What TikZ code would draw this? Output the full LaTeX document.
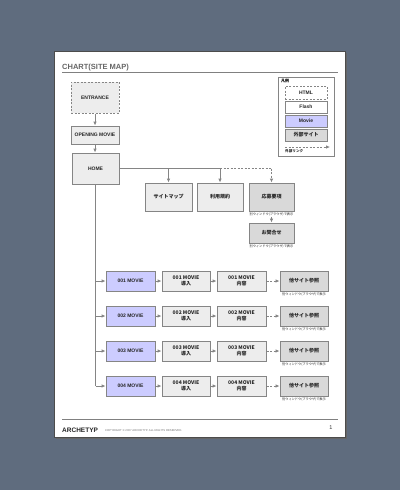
\documentclass[tikz,border=0pt]{standalone}
\usepackage{fontspec}
\setmainfont{Liberation Sans}
\newfontfamily\cjk{Noto Sans CJK JP}
\usetikzlibrary{arrows.meta}
\definecolor{bgc}{HTML}{5F6C7E}
\definecolor{boxfill}{HTML}{EDEDED}
\definecolor{darkfill}{HTML}{D9D9D9}
\definecolor{moviefill}{HTML}{CCCCFF}
\definecolor{linec}{HTML}{858585}
\tikzset{
  base/.style={draw=linec, line width=1pt, align=center, inner sep=0.5pt,
    font=\bfseries\fontsize{5}{5.8}\selectfont, text=black!85},
  htmlbox/.style={base, fill=boxfill},
  dashbox/.style={base, fill=boxfill, dashed, dash pattern=on 2pt off 1.5pt},
  extbox/.style={base, fill=darkfill},
  moviebox/.style={base, fill=moviefill},
  whitebox/.style={base, fill=white},
  jp/.style={font=\cjk\bfseries\fontsize{5}{5.8}\selectfont},
  conn/.style={draw=linec, line width=1pt, -{Latex[length=3.8pt,width=3.4pt]}},
  dconn/.style={conn, dash pattern=on 2pt off 1.5pt},
  plain/.style={draw=linec, line width=1pt},
  dplain/.style={plain, dash pattern=on 2pt off 1.5pt},
  caption/.style={font=\cjk\fontsize{3.2}{3.6}\selectfont, text=black!85, inner sep=0pt},
}
\begin{document}
\begin{tikzpicture}[x=1pt,y=-1pt]
\useasboundingbox (0,0) rectangle (400,490);
\fill[bgc] (0,0) rectangle (400,490);
% page
\fill[black!60] (56,53) rectangle (347,439);
\filldraw[fill=white, draw=black!70, line width=0.5pt] (54,51) rectangle (345,437);
% title
\node[anchor=base west, inner sep=0pt, font=\bfseries\fontsize{7.5}{8}\selectfont, text=black!60] (title) at (62,69) {CHART(SITE MAP)};
\draw[black!50, line width=0.9pt] (62,72.5) -- (338,72.5);
% legend
\draw[draw=linec, line width=0.8pt, fill=white] (278,77) rectangle (334,156);
\node[anchor=north west, inner sep=0pt, font=\cjk\bfseries\fontsize{4}{4.5}\selectfont] (lgtitle) at (281,79) {凡例};
\node[dashbox, fill=white, minimum width=42pt, minimum height=13pt] (lghtml) at (306,92.5) {HTML};
\node[whitebox, minimum width=42pt, minimum height=12pt] (lgflash) at (306,107) {Flash};
\node[moviebox, minimum width=42pt, minimum height=12pt] (lgmovie) at (306,121) {Movie};
\node[extbox, jp, minimum width=42pt, minimum height=12pt] (lgext) at (306,135) {外部サイト};
\coordinate (lga) at (285,147);
\coordinate (lgb) at (330,147);
\draw[dconn] (lga) -- (lgb);
\node[anchor=west, caption, font=\cjk\bfseries\fontsize{3.6}{4}\selectfont] (lglink) at (285,151.5) {外部リンク};
% main chart
\node[dashbox, minimum width=48pt, minimum height=31pt] (entrance) at (95,97.5) {ENTRANCE};
\node[htmlbox, minimum width=48pt, minimum height=18pt] (opening) at (95,135) {OPENING MOVIE};
\node[htmlbox, minimum width=47pt, minimum height=31pt] (home) at (95.5,168.5) {HOME};
\draw[conn] (entrance) -- (opening);
\draw[conn] (opening) -- (home.north -| opening);
\node[htmlbox, jp, minimum width=47pt, minimum height=28pt] (sitemap) at (168.5,197) {サイトマップ};
\node[htmlbox, jp, minimum width=46pt, minimum height=28pt] (kiyaku) at (220,197) {利用規約};
\node[extbox, jp, minimum width=45pt, minimum height=28pt] (oubo) at (271.5,197) {応募要項};
\node[caption, anchor=north] (capoubo) at (271.5,213) {別ウィンドウ(ブラウザ)で表示};
\node[extbox, jp, minimum width=45pt, minimum height=20pt] (toiawase) at (271.5,233) {お問合せ};
\node[caption, anchor=north] (captoi) at (271.5,245) {別ウィンドウ(ブラウザ)で表示};
\coordinate (hr) at (home.east);
\coordinate (j1) at (sitemap.north |- hr);
\coordinate (j2) at (kiyaku.north |- hr);
\coordinate (j3) at (oubo.north |- hr);
\draw[plain] (hr) -- (j2);
\draw[dplain] (j2) -- (j3);
\draw[conn] (j1) -- (sitemap.north);
\draw[conn] (j2) -- (kiyaku.north);
\draw[dconn] (j3) -- (oubo.north);
\draw[dconn] (capoubo.south) -- (toiawase.north);
% movie rows
\foreach \i/\y in {1/281,2/316,3/351,4/386}{
  \node[moviebox, minimum width=49pt, minimum height=20pt] (m\i) at (130.5,\y) {00\i\ MOVIE};
  \node[htmlbox, jp, minimum width=48pt, minimum height=20pt] (d\i) at (186,\y) {00\i\ MOVIE\\導入};
  \node[htmlbox, jp, minimum width=49pt, minimum height=20pt] (c\i) at (241.5,\y) {00\i\ MOVIE\\内容};
  \node[extbox, jp, minimum width=48pt, minimum height=20pt] (o\i) at (304,\y) {他サイト参照};
  \node[caption, anchor=north] (cap\i) at (304,\y+11.5) {別ウィンドウ(ブラウザ)で表示};
  \coordinate (v\i) at (home.south |- m\i.west);
  \draw[conn] (v\i) -- (m\i.west);
  \draw[conn] (m\i) -- (d\i);
  \draw[conn] (d\i) -- (c\i);
  \draw[dconn] (c\i) -- (o\i);
}
\draw[plain] (home.south) -- (v4);
% footer
\draw[black!50, line width=0.9pt] (62,419) -- (338,419);
\node[anchor=base west, inner sep=0pt, font=\bfseries\fontsize{6.5}{7}\selectfont, text=black!85] (brand) at (62,432.5) {ARCHETYP};
\node[anchor=base west, inner sep=0pt, font=\fontsize{2.8}{3}\selectfont, text=black!55] (copy) at (105,431.5) {COPYRIGHT \copyright\ 2007 ARCHETYP. ALL RIGHTS RESERVED.};
\node[anchor=base, inner sep=0pt, font=\fontsize{5.5}{6}\selectfont, text=black!80] (pageno) at (331,429) {1};
\end{tikzpicture}
\end{document}
